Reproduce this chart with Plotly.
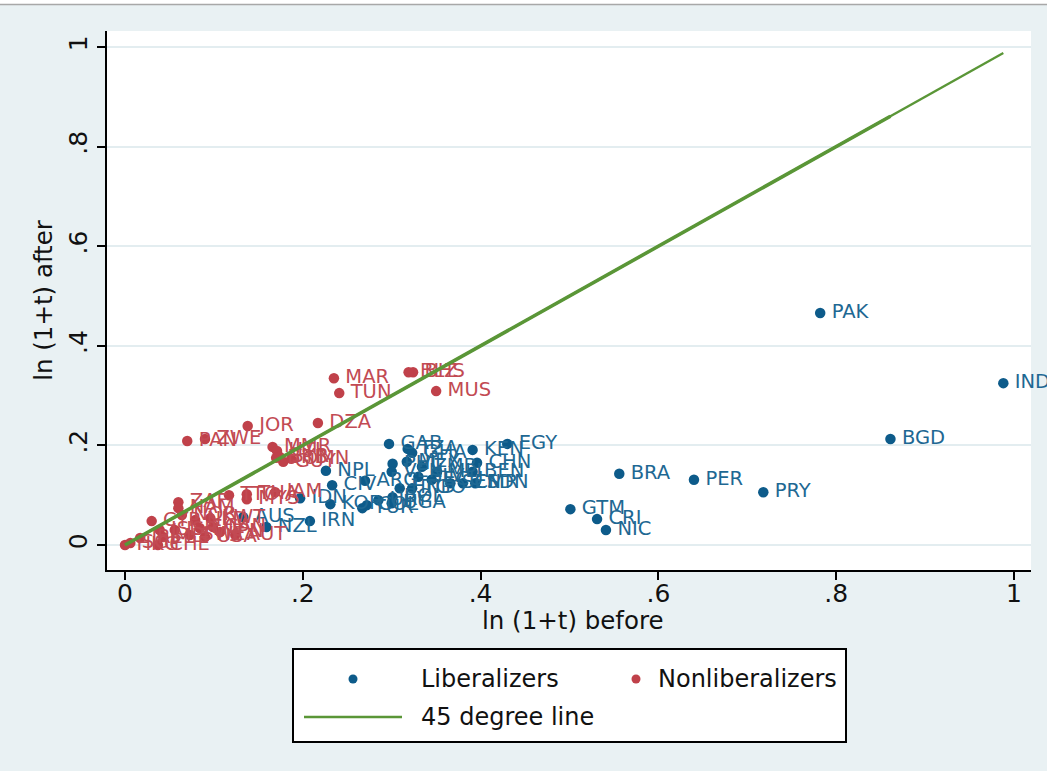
import plotly.graph_objects as go

# ---------------- data ----------------
lib_codes = ["PAK", "IND", "BGD", "BRA", "PER", "PRY", "GTM", "CRI", "NIC", "EGY",
             "KEN", "CHN", "GAB", "NPL", "CIV", "KOR", "IDN", "IRN", "AUS", "NZL",
             "TUR", "UGA", "URY", "COL", "ARG", "TZA", "GHA", "PHL", "MEX", "ZMB",
             "MLI", "BEN", "VEN", "SLV", "ECU", "SEN", "CMR", "SDN", "HND", "TGO", "BOL"]
lib_before = [0.782, 0.988, 0.861, 0.556, 0.640, 0.718, 0.501, 0.531, 0.541, 0.430,
              0.391, 0.396, 0.297, 0.226, 0.233, 0.231, 0.197, 0.208, 0.133, 0.159,
              0.267, 0.300, 0.285, 0.272, 0.270, 0.318, 0.323, 0.301, 0.317, 0.334,
              0.351, 0.391, 0.300, 0.330, 0.345, 0.366, 0.380, 0.394, 0.309, 0.323, 0.301]
lib_after = [0.466, 0.325, 0.213, 0.143, 0.131, 0.106, 0.072, 0.052, 0.030, 0.203,
             0.191, 0.165, 0.203, 0.149, 0.120, 0.082, 0.094, 0.048, 0.056, 0.036,
             0.074, 0.084, 0.090, 0.080, 0.129, 0.193, 0.185, 0.163, 0.167, 0.157,
             0.147, 0.147, 0.147, 0.137, 0.131, 0.124, 0.124, 0.124, 0.114, 0.114, 0.096]

non_codes = ["MAR", "TUN", "BHS", "BLZ", "MUS", "DZA", "JOR", "PAN", "ZWE",
             "MMR", "HTI", "SYR", "GUY", "OMN", "BRB",
             "TTO", "THA", "JAM", "MYS",
             "HKG", "SGP", "CHE", "CYP", "ISL", "ZAF", "NAM", "NOR", "ISR", "MLT",
             "SWE", "FIN", "CAN", "USA", "JPN", "AUT", "NLD", "KWT", "IRL"]
non_before = [0.235, 0.241, 0.324, 0.319, 0.350, 0.217, 0.138, 0.070, 0.090,
              0.166, 0.171, 0.174, 0.178, 0.187, 0.170,
              0.117, 0.137, 0.169, 0.137,
              0.000, 0.006, 0.037, 0.030, 0.039, 0.060, 0.060, 0.064, 0.056, 0.043,
              0.073, 0.084, 0.099, 0.090, 0.107, 0.124, 0.079, 0.096, 0.017]
non_after = [0.335, 0.305, 0.347, 0.347, 0.309, 0.245, 0.239, 0.209, 0.213,
             0.197, 0.189, 0.177, 0.167, 0.173, 0.175,
             0.100, 0.102, 0.106, 0.092,
             0.000, 0.004, 0.000, 0.048, 0.030, 0.086, 0.074, 0.060, 0.030, 0.016,
             0.020, 0.034, 0.036, 0.016, 0.026, 0.020, 0.050, 0.054, 0.014]

tick_vals = [0, 0.2, 0.4, 0.6, 0.8, 1.0]
tick_text = ["0", ".2", ".4", ".6", ".8", "1"]

# 45-degree line spans (from data extents)
line_end_full = max(lib_before)
line_end_short = sorted(lib_before)[-2]

# ---------------- style ----------------
W, H = 1047, 771
PL, PR, PT, PB = 107, 1031, 31, 570   # plot area in pixels
BG = "#E9F1F3"
BLUE = "#0D5B8A"
BLUE_T = "#1E6893"
RED = "#C0414A"
RED_T = "#C24A53"
GREEN = "#5A9637"
FONT = "DejaVu Sans"


def px_x(p):
    return (p - PL) / (PR - PL)


def px_y(p):
    return (PB - p) / (PB - PT)


fig = go.Figure()

fig.add_trace(go.Scatter(
    x=lib_before, y=lib_after, text=["\u2009" + c for c in lib_codes], mode="markers+text",
    textposition="middle right", cliponaxis=False,
    marker=dict(color=BLUE, size=10.5),
    textfont=dict(color=BLUE_T, size=19.5, family=FONT),
    name="Liberalizers", showlegend=False, hoverinfo="skip"))

fig.add_trace(go.Scatter(
    x=non_before, y=non_after, text=["\u2009" + c for c in non_codes], mode="markers+text",
    textposition="middle right", cliponaxis=False,
    marker=dict(color=RED, size=10.5),
    textfont=dict(color=RED_T, size=19.5, family=FONT),
    name="Nonliberalizers", showlegend=False, hoverinfo="skip"))

fig.add_trace(go.Scatter(
    x=[0, line_end_full], y=[0, line_end_full], mode="lines",
    line=dict(color=GREEN, width=2.3), name="45 degree line",
    showlegend=False, hoverinfo="skip"))
fig.add_trace(go.Scatter(
    x=[0, line_end_short], y=[0, line_end_short], mode="lines", xaxis="x2",
    line=dict(color=GREEN, width=3.6), showlegend=False, hoverinfo="skip"))

xr = [(PL - 125) / 889, (PR - 125) / 889]
yr = [(545 - PB) / 498, (545 - PT) / 498]

tfont = dict(size=25, family=FONT, color="#111")

fig.update_layout(
    xaxis=dict(range=xr, showgrid=False, zeroline=False,
               showline=True, linecolor="black", linewidth=2,
               ticks="outside", ticklen=8, tickwidth=1.6, tickcolor="black",
               tickvals=tick_vals, showticklabels=False),
    xaxis2=dict(range=xr, overlaying="x", anchor="y", side="bottom",
                showgrid=False, zeroline=False, showline=False, ticks="",
                tickvals=tick_vals, ticktext=tick_text, tickfont=tfont,
                ticklabelstandoff=6),
    yaxis=dict(range=yr, showgrid=True, gridcolor="#E3EDF0", gridwidth=2,
               zeroline=False, showline=True, linecolor="black", linewidth=2,
               ticks="outside", ticklen=8, tickwidth=1.6, tickcolor="black",
               tickvals=tick_vals, ticktext=tick_text, tickfont=tfont,
               tickangle=-90,
               title=dict(text="ln (1+t) after", font=dict(size=24.5, family=FONT, color="#111"),
                          standoff=4)),
)

shapes = []
# top white strip and thin grey rule
shapes.append(dict(type="rect", xref="paper", yref="paper",
                   x0=px_x(0), x1=px_x(W), y0=px_y(4), y1=px_y(0) + 0.01,
                   fillcolor="white", line=dict(width=0), layer="below"))
shapes.append(dict(type="line", xref="paper", yref="paper",
                   x0=px_x(0), x1=px_x(W), y0=px_y(4.5), y1=px_y(4.5),
                   line=dict(color="#A8A8A8", width=1.5)))
# legend box
shapes.append(dict(type="rect", xref="paper", yref="paper",
                   x0=px_x(293), x1=px_x(846), y0=px_y(742), y1=px_y(649),
                   fillcolor="white", line=dict(color="black", width=2)))
# legend markers
for cx, col in [(353, BLUE), (636, RED)]:
    shapes.append(dict(type="circle", xref="paper", yref="paper",
                       x0=px_x(cx - 4.5), x1=px_x(cx + 4.5),
                       y0=px_y(679 + 4.5), y1=px_y(679 - 4.5),
                       fillcolor=col, line=dict(width=0)))
shapes.append(dict(type="line", xref="paper", yref="paper",
                   x0=px_x(304), x1=px_x(402), y0=px_y(717), y1=px_y(717),
                   line=dict(color=GREEN, width=2.5)))

annotations = []
for tx, ty, label in [(419, 679, "Liberalizers"), (656, 679, "Nonliberalizers"),
                      (419, 717, "45 degree line")]:
    annotations.append(dict(x=px_x(tx), y=px_y(ty), xref="paper", yref="paper",
                            text=label, showarrow=False, xanchor="left", yanchor="middle",
                            font=dict(size=24, family=FONT, color="#111")))
# x-axis title
annotations.append(dict(x=px_x(573), y=px_y(620), xref="paper", yref="paper",
                        text="ln (1+t) before", showarrow=False,
                        xanchor="center", yanchor="middle",
                        font=dict(size=24.5, family=FONT, color="#111")))

fig.update_layout(
    width=W, height=H,
    margin=dict(l=PL, r=W - PR, t=PT, b=H - PB),
    paper_bgcolor=BG, plot_bgcolor="white",
    showlegend=False,
    shapes=shapes, annotations=annotations,
    font=dict(family=FONT),
)

fig.write_html("out.html", config={"displayModeBar": False},
               post_script="document.body.style.margin='0';document.body.style.overflow='hidden';")
